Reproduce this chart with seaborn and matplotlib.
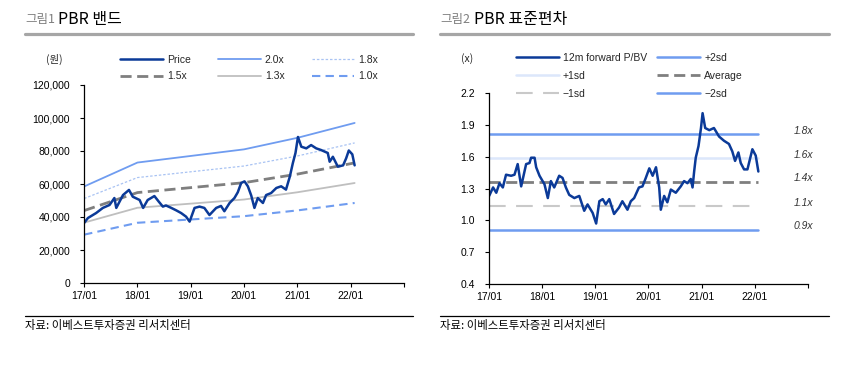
import matplotlib
matplotlib.use("Agg")
import matplotlib.pyplot as plt
from matplotlib.lines import Line2D
import seaborn as sns
import pandas as pd

# ---------------- data ----------------
price_dates = ["2017-01-02", "2017-01-28", "2017-03-25", "2017-05-10", "2017-06-25", "2017-07-28",
               "2017-08-10", "2017-09-25", "2017-11-05", "2017-12-01", "2018-01-17", "2018-02-10",
               "2018-03-13", "2018-04-28", "2018-05-28", "2018-06-25", "2018-07-16", "2018-08-22",
               "2018-09-25", "2018-10-28", "2018-12-01", "2018-12-25", "2019-01-28", "2019-03-03",
               "2019-04-05", "2019-05-10", "2019-06-25", "2019-07-28", "2019-08-20", "2019-09-25",
               "2019-10-28", "2019-11-20", "2019-12-13", "2020-01-05", "2020-01-28", "2020-02-20",
               "2020-03-13", "2020-04-05", "2020-05-10", "2020-06-01", "2020-07-05", "2020-08-10",
               "2020-09-12", "2020-10-15", "2020-11-10", "2020-12-01", "2020-12-19", "2021-01-05",
               "2021-01-28", "2021-03-03", "2021-04-05", "2021-05-10", "2021-06-12", "2021-07-28",
               "2021-08-10", "2021-09-01", "2021-10-05", "2021-11-10", "2021-12-01", "2021-12-19",
               "2022-01-12", "2022-01-28"]
price_values = [36400, 39400, 42400, 45500, 47300, 51500, 45500, 53300, 56400, 52300, 50300, 45500,
                50300, 52700, 49300, 46300, 47000, 45500, 44000, 42400, 40200, 37200, 45500, 46300,
                45500, 41200, 45500, 46700, 43500, 48500, 51500, 55000, 60600, 61600, 58600, 53000,
                45500, 51500, 48500, 53300, 54500, 57600, 58600, 56600, 64400, 72700, 78800, 88500,
                82600, 81600, 83600, 81600, 80600, 78800, 73500, 76500, 70500, 71300, 75600, 80300,
                78000, 71300]

band_dates = ["2017-01-02", "2018-01-02", "2019-01-02", "2020-01-02", "2021-01-02", "2022-01-28"]
band_labels = ["2.0x", "1.8x", "1.5x", "1.3x", "1.0x"]
band_20x = [58500, 73000, 77000, 81000, 88000, 97000]
band_18x = [51200, 63900, 67400, 70900, 77000, 84900]
band_15x = [43900, 54800, 57800, 60800, 66000, 72800]
band_13x = [36600, 45600, 48100, 50600, 55000, 60600]
band_10x = [29300, 36500, 38500, 40500, 44000, 48500]

pbv_dates = ["2017-01-02", "2017-01-29", "2017-02-20", "2017-03-14", "2017-04-06", "2017-04-28",
             "2017-06-02", "2017-06-25", "2017-07-17", "2017-08-10", "2017-09-13", "2017-10-06",
             "2017-10-17", "2017-11-10", "2017-11-21", "2017-12-14", "2018-01-17", "2018-02-09",
             "2018-03-02", "2018-03-25", "2018-04-28", "2018-05-21", "2018-06-13", "2018-07-06",
             "2018-08-10", "2018-09-13", "2018-10-17", "2018-11-09", "2018-12-14", "2019-01-07",
             "2019-01-29", "2019-02-21", "2019-03-14", "2019-04-07", "2019-05-10", "2019-06-13",
             "2019-07-06", "2019-08-10", "2019-09-02", "2019-09-25", "2019-10-28", "2019-11-21",
             "2019-12-14", "2020-01-07", "2020-01-30", "2020-02-22", "2020-03-15", "2020-03-26",
             "2020-04-18", "2020-05-10", "2020-06-03", "2020-07-07", "2020-08-10", "2020-09-02",
             "2020-09-25", "2020-10-18", "2020-10-30", "2020-11-10", "2020-11-21", "2020-12-10",
             "2020-12-27", "2021-01-07", "2021-01-25", "2021-02-22", "2021-03-26", "2021-04-30",
             "2021-06-03", "2021-07-07", "2021-07-30", "2021-08-18", "2021-09-10", "2021-09-26",
             "2021-10-19", "2021-11-11", "2021-12-15", "2022-01-07", "2022-01-25"]
pbv_values = [1.23, 1.31, 1.26, 1.35, 1.31, 1.43, 1.42, 1.43, 1.53, 1.32, 1.53, 1.54,
              1.59, 1.59, 1.50, 1.42, 1.34, 1.21, 1.37, 1.31, 1.42, 1.40, 1.31, 1.24,
              1.21, 1.23, 1.09, 1.15, 1.07, 0.97, 1.18, 1.20, 1.15, 1.20, 1.06, 1.12,
              1.18, 1.10, 1.18, 1.21, 1.31, 1.32, 1.40, 1.49, 1.42, 1.50, 1.31, 1.10,
              1.23, 1.17, 1.29, 1.26, 1.32, 1.37, 1.35, 1.39, 1.31, 1.46, 1.59, 1.70,
              1.87, 2.01, 1.87, 1.85, 1.87, 1.79, 1.75, 1.72, 1.65, 1.56, 1.64, 1.54,
              1.48, 1.48, 1.67, 1.61, 1.46]

sd_names = ["+2sd", "+1sd", "Average", "\u22121sd", "\u22122sd"]
sd_levels = [1.815, 1.585, 1.365, 1.135, 0.912]
sd_tags = ["1.8x", "1.6x", "1.4x", "1.1x", "0.9x"]
sd_span = ["2017-01-02", "2022-01-25"]

xtick_labels = ["17/01", "18/01", "19/01", "20/01", "21/01", "22/01", ""]

# ---------------- style ----------------
sns.set_theme(style="white")
plt.rcParams["font.family"] = ["Liberation Sans", "Noto Sans CJK KR", "DejaVu Sans"]
plt.rcParams["axes.unicode_minus"] = True

W, H = 857, 365
fig = plt.figure(figsize=(W / 100, H / 100), dpi=100)


def fx(px):
    return px / W


def fy(py):
    return 1 - py / H


NAVY = "#0B3A98"
BLUE = "#6F9CF0"
LBLUE = "#A9C3F3"
GRAY = "#7F7F7F"
LGRAY = "#BFBFBF"
KR = ["Noto Sans CJK KR", "DejaVu Sans"]
NARROW = ["Liberation Sans Narrow", "Liberation Sans", "DejaVu Sans"]

# header / footer decorations
for (x0, x1, tnum, ttl) in [(25, 413, "그림1", "PBR 밴드"), (440, 829, "그림2", "PBR 표준편차")]:
    fig.add_artist(Line2D([fx(x0), fx(x1)], [fy(33.5), fy(33.5)], color="#A6A6A6", lw=2.3))
    fig.add_artist(Line2D([fx(x0), fx(x1)], [fy(316), fy(316)], color="black", lw=0.9))
    fig.text(fx(x0), fy(20), tnum, color="#7F7F7F", fontsize=9, va="center", ha="left", family=KR)
    fig.text(fx(x0 + 33.5), fy(19.5), ttl, color="black", fontsize=11.5, va="center", ha="left", family=KR)
    fig.text(fx(x0), fy(325), "자료: 이베스트투자증권 리서치센터", color="black", fontsize=8.2,
             va="center", ha="left", family=KR)

xticks = pd.date_range("2017-01-01", "2023-01-01", freq="YS")


def style_axes(ax):
    for s in ["top", "right"]:
        ax.spines[s].set_visible(False)
    for s in ["left", "bottom"]:
        ax.spines[s].set_color("black")
        ax.spines[s].set_linewidth(0.9)
    ax.set_xlim(pd.Timestamp("2017-01-01"), pd.Timestamp("2023-01-01"))
    ax.set_xticks(xticks)
    ax.set_xticklabels(xtick_labels)
    ax.tick_params(axis="both", which="major", direction="out", length=3, width=0.8,
                   color="black", labelsize=7.5, labelcolor="black", bottom=True, left=True)
    ax.tick_params(axis="y", pad=7)
    ax.tick_params(axis="x", pad=3)
    for lab in ax.get_xticklabels() + ax.get_yticklabels():
        lab.set_fontfamily(NARROW)
    ax.set_xlabel("")
    ax.set_ylabel("")
    ax.grid(False)


# ---------------- left panel ----------------
ax1 = fig.add_axes([fx(84), fy(283), fx(404) - fx(84), fy(85) - fy(283)])
bd = pd.to_datetime(band_dates)
sns.lineplot(x=bd, y=band_10x, ax=ax1, color=BLUE, lw=1.5, linestyle=(0, (4, 2.5)), label="1.0x")
sns.lineplot(x=bd, y=band_13x, ax=ax1, color=LGRAY, lw=1.3, label="1.3x")
sns.lineplot(x=bd, y=band_15x, ax=ax1, color=GRAY, lw=2.0, linestyle=(0, (4, 2)), label="1.5x")
sns.lineplot(x=bd, y=band_18x, ax=ax1, color=LBLUE, lw=0.9, linestyle=(0, (2, 1.5)), label="1.8x")
sns.lineplot(x=bd, y=band_20x, ax=ax1, color=BLUE, lw=1.3, label="2.0x")
sns.lineplot(x=pd.to_datetime(price_dates), y=price_values, ax=ax1, color=NAVY, lw=1.8, label="Price")
ax1.set_ylim(0, 120000)
ax1.set_yticks(range(0, 120001, 20000))
ax1.set_yticklabels([f"{v:,}" for v in range(0, 120001, 20000)])
style_axes(ax1)

h1, l1 = ax1.get_legend_handles_labels()
hd1 = dict(zip(l1, h1))
order1 = ["Price", "1.5x", "2.0x", "1.3x", "1.8x", "1.0x"]
ax1.legend([hd1[k] for k in order1], order1, loc="upper left",
           bbox_to_anchor=(fx(120), fy(55)), bbox_transform=fig.transFigure,
           ncol=3, frameon=False, fontsize=7.5, handlelength=4.1, handletextpad=0.4,
           columnspacing=2.6, labelspacing=0.6, borderpad=0, borderaxespad=0)
fig.text(fx(54), fy(59), "(원)", fontsize=7.5, ha="center", va="center", family=KR)

# ---------------- right panel ----------------
ax2 = fig.add_axes([fx(489), fy(284), fx(808) - fx(489), fy(93) - fy(284)])
sp = pd.to_datetime(sd_span)
sd_styles = [
    dict(color=BLUE, lw=1.8, linestyle="-"),
    dict(color="#DCE7FB", lw=1.8, linestyle="-"),
    dict(color=GRAY, lw=2.0, linestyle=(0, (4, 2))),
    dict(color="#C9C9C9", lw=1.5, linestyle=(0, (8, 5))),
    dict(color=BLUE, lw=1.8, linestyle="-"),
]
for name, lvl, st in zip(sd_names, sd_levels, sd_styles):
    sns.lineplot(x=sp, y=[lvl, lvl], ax=ax2, label=name, **st)
sns.lineplot(x=pd.to_datetime(pbv_dates), y=pbv_values, ax=ax2, color=NAVY, lw=1.8,
             label="12m forward P/BV")
ax2.set_ylim(0.4, 2.2)
yt2 = [0.4, 0.7, 1.0, 1.3, 1.6, 1.9, 2.2]
ax2.set_yticks(yt2)
ax2.set_yticklabels([f"{v:.1f}" for v in yt2])
style_axes(ax2)

for lvl, tag in zip(sd_levels, sd_tags):
    ax2.text(0.955, lvl + 0.03, tag, transform=ax2.get_yaxis_transform(), fontsize=7.5,
             style="italic", color="#333333", ha="left", va="center", clip_on=False)

h2, l2 = ax2.get_legend_handles_labels()
hd2 = dict(zip(l2, h2))
order2 = ["12m forward P/BV", "+1sd", "\u22121sd", "+2sd", "Average", "\u22122sd"]
ax2.legend([hd2[k] for k in order2], order2, loc="upper left",
           bbox_to_anchor=(fx(516), fy(53)), bbox_transform=fig.transFigure,
           ncol=2, frameon=False, fontsize=7.5, handlelength=4.1, handletextpad=0.4,
           columnspacing=1.0, labelspacing=0.75, borderpad=0, borderaxespad=0)
fig.text(fx(467), fy(59), "(x)", fontsize=7.5, ha="center", va="center", family=KR)

fig.savefig("out.png", dpi=100)
